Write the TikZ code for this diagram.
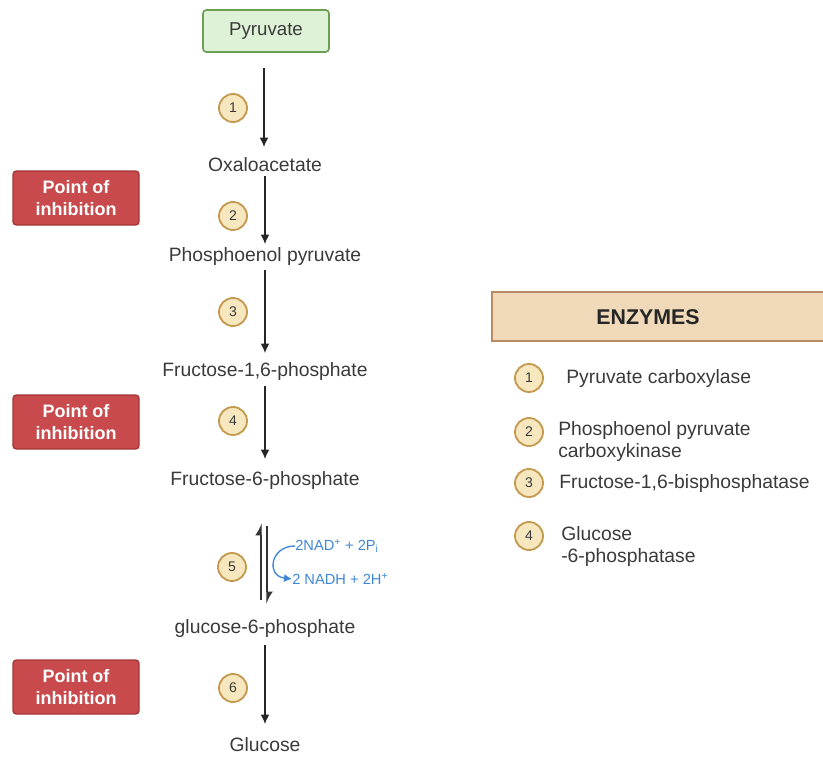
\documentclass[tikz,border=0pt]{standalone}
\usepackage{fontspec}
\setmainfont{Liberation Sans}
\usetikzlibrary{arrows.meta}
\definecolor{gfill}{HTML}{DDF2D6}
\definecolor{gdraw}{HTML}{6A9F55}
\definecolor{rfill}{HTML}{C94A4C}
\definecolor{rdraw}{HTML}{A53538}
\definecolor{bfill}{HTML}{F6E7BE}
\definecolor{bdraw}{HTML}{C59B52}
\definecolor{efill}{HTML}{EFD9B8}
\definecolor{edraw}{HTML}{B98B62}
\definecolor{txt}{HTML}{3A3A3A}
\definecolor{nblue}{HTML}{3F87D6}
\begin{document}
\begin{tikzpicture}[x=0.75pt,y=-0.75pt,
  lbl/.style={text=txt,font=\fontsize{14.5}{17}\selectfont,inner sep=0pt},
  startbox/.style={draw=gdraw,fill=gfill,line width=1.2pt,rounded corners=2.5pt,minimum width=94.5pt,minimum height=31.5pt,text=txt,font=\fontsize{14}{17}\selectfont},
  inhib/.style={draw=rdraw,fill=rfill,line width=1pt,rounded corners=2.5pt,minimum width=94.5pt,minimum height=40.5pt,text=white,font=\bfseries\fontsize{13.5}{16}\selectfont,align=center,inner sep=1pt},
  badge/.style={circle,draw=bdraw,fill=bfill,line width=1.4pt,minimum size=21pt,inner sep=0pt,text=txt,font=\fontsize{10.5}{12}\selectfont},
  flow/.style={draw=black!85,line width=0.9pt,-{Latex[length=7pt,width=6.5pt]}},
  harp/.style={draw=black!80,line width=1pt,-{Latex[left,length=8pt,width=9pt]}},
  enzt/.style={text=txt,font=\fontsize{14.5}{16.5}\selectfont,align=left,anchor=west,inner sep=0pt},
  bluet/.style={text=nblue,font=\fontsize{11}{13}\selectfont,anchor=west,inner sep=0pt}]
\useasboundingbox (0,0) rectangle (823,756);

% main pathway
\node[startbox] (pyr) at (266,31) {Pyruvate};
\node[lbl] (oxa) at (265,165) {Oxaloacetate};
\node[lbl] (pep) at (265,256) {Phosphoenol pyruvate};
\node[lbl] (f16) at (265,371) {Fructose-1,6-phosphate};
\node[lbl] (f6) at (265,480) {Fructose-6-phosphate};
\node[lbl] (g6) at (265,628) {glucose-6-phosphate};
\node[lbl] (glc) at (265,745) {Glucose};

\coordinate (a1s) at (264,68);  \coordinate (a1e) at (264,147);
\coordinate (a2s) at (265,176); \coordinate (a2e) at (265,244);
\coordinate (a3s) at (265,270); \coordinate (a3e) at (265,353);
\coordinate (a4s) at (265,386); \coordinate (a4e) at (265,459);
\coordinate (a6s) at (265,645); \coordinate (a6e) at (265,724);
\draw[flow] (a1s) -- (a1e);
\draw[flow] (a2s) -- (a2e);
\draw[flow] (a3s) -- (a3e);
\draw[flow] (a4s) -- (a4e);
\draw[flow] (a6s) -- (a6e);

% reversible step 5
\coordinate (r1s) at (261,600); \coordinate (r1e) at (261,523);
\coordinate (r2s) at (267,526); \coordinate (r2e) at (267,604);
\draw[harp] (r1s) -- (r1e);
\draw[harp] (r2s) -- (r2e);

\node[bluet] (nad) at (295,546) {2NAD\textsuperscript{+} + 2P\textsubscript{i}};
\node[bluet] (nadh) at (292,579) {2 NADH + 2H\textsuperscript{+}};
\draw[nblue,line width=1pt,-{Latex[length=6pt,width=6pt]}] (nad.west) .. controls (270,546) and (266,576) .. (nadh.west);

% badges
\node[badge] (b1) at (233,108) {1};
\node[badge] (b2) at (233,216) {2};
\node[badge] (b3) at (233,312) {3};
\node[badge] (b4) at (233,421) {4};
\node[badge] (b5) at (232,567) {5};
\node[badge] (b6) at (233,688) {6};

% inhibition boxes
\node[inhib] (i1) at (76,198) {Point of\\inhibition};
\node[inhib] (i2) at (76,422) {Point of\\inhibition};
\node[inhib] (i3) at (76,687) {Point of\\inhibition};

% enzymes legend
\draw[draw=edraw,fill=efill,line width=1.2pt] (492,292) rectangle (832,341);
\node[text=black!85,font=\bfseries\fontsize{16}{18}\selectfont] (enz) at (648,317) {ENZYMES};

\node[badge] (e1) at (529,378) {1};
\node[badge] (e2) at (529,432) {2};
\node[badge] (e3) at (529,483) {3};
\node[badge] (e4) at (529,536) {4};
\node[enzt] (t1) at (566,378) {Pyruvate carboxylase};
\node[enzt] (t2) at (558,441) {Phosphoenol pyruvate\\carboxykinase};
\node[enzt] (t3) at (559,483) {Fructose-1,6-bisphosphatase};
\node[enzt] (t4) at (561,546) {Glucose\\-6-phosphatase};
\end{tikzpicture}
\end{document}
